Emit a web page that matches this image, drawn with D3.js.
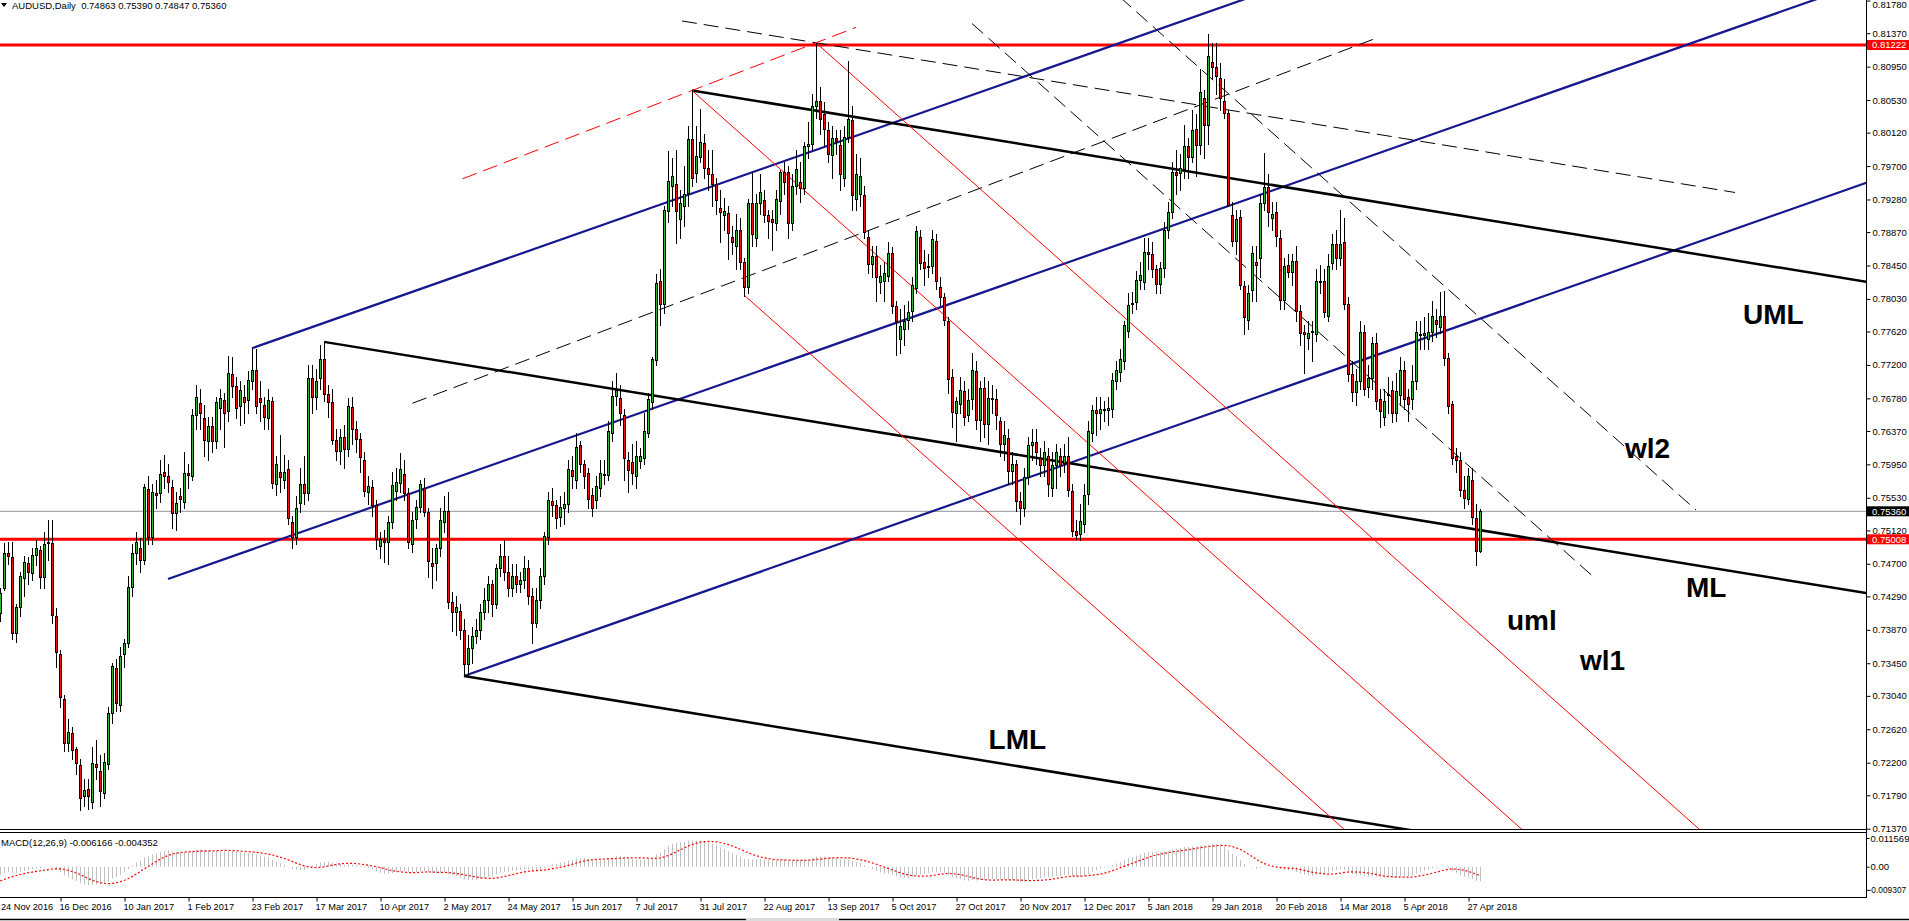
<!DOCTYPE html>
<html><head><meta charset="utf-8">
<script src="https://cdn.jsdelivr.net/npm/d3@7/dist/d3.min.js"></script>
<style>
html,body{margin:0;padding:0;background:#fff;overflow:hidden}
svg{display:block}
text{font-family:"Liberation Sans",Arial,sans-serif}
</style></head><body>
<svg id="chart" width="1909" height="921"></svg>
<script>
// ---------------- DATA (prices in pips, 1 pip = 0.0001) ----------------
const PIP = 1e-4;
const opens = [7395,7408,7439,7483,7479,7383,7416,7452,7471,7458,
7481,7487,7453,7496,7496,7404,7357,7300,7245,7257,
7237,7217,7178,7187,7170,7218,7209,7182,7218,7282,
7339,7293,7357,7370,7441,7483,7490,7475,7564,7504,
7559,7559,7585,7580,7566,7534,7555,7548,7584,7581,
7657,7672,7653,7624,7643,7624,7666,7676,7662,7709,
7694,7668,7680,7676,7700,7714,7678,7670,7653,7675,
7570,7585,7575,7589,7523,7504,7546,7570,7559,7703,
7680,7703,7728,7684,7674,7626,7612,7630,7614,7667,
7639,7627,7601,7560,7566,7544,7493,7500,7497,7522,
7561,7571,7583,7559,7495,7526,7542,7565,7535,7471,
7471,7490,7523,7536,7422,7410,7411,7387,7344,7364,
7379,7387,7410,7425,7445,7420,7465,7480,7460,7440,
7455,7445,7450,7465,7430,7395,7425,7455,7504,7549,
7544,7529,7540,7545,7588,7575,7619,7595,7584,7556,
7550,7565,7582,7582,7634,7681,7678,7657,7600,7598,
7580,7599,7603,7635,7674,7726,7826,7797,7913,7945,
7948,7903,7920,7936,8004,7961,7982,7999,7967,7960,
7947,7917,7908,7911,7881,7869,7889,7849,7818,7924,
7879,7924,7927,7909,7903,7899,7926,7962,7962,7899,
7945,7950,7943,7995,7998,8045,8052,8035,8015,7984,
8005,7997,7955,8007,8028,7928,7935,7934,7881,7847,
7857,7824,7825,7832,7861,7794,7752,7765,7777,7788,
7817,7881,7849,7843,7844,7876,7818,7806,7775,7705,
7660,7671,7687,7657,7677,7713,7651,7691,7646,7678,
7677,7649,7621,7628,7587,7595,7549,7540,7579,7619,
7623,7603,7594,7605,7565,7594,7605,7597,7606,7561,
7511,7508,7520,7558,7635,7663,7660,7664,7663,7664,
7700,7711,7725,7763,7797,7799,7827,7824,7862,7860,
7840,7822,7842,7889,7912,7963,7961,7966,7995,7981,
8016,7997,8056,8022,8101,8094,8081,8052,8037,7909,
7876,7906,7819,7777,7814,7850,7855,7923,7944,7905,
7912,7880,7801,7845,7837,7851,7788,7761,7754,7763,
7759,7824,7826,7782,7848,7872,7855,7875,7797,7709,
7686,7700,7761,7692,7703,7747,7677,7655,7682,7689,
7660,7682,7714,7680,7677,7700,7759,7758,7752,7761,
7777,7768,7781,7729,7671,7605,7601,7563,7551,7575,
7527,7486.3];
const highs = [7420,7440,7496,7497,7497,7420,7460,7480,7478,7490,
7500,7492,7510,7525,7525,7415,7362,7305,7275,7265,
7240,7225,7200,7200,7240,7248,7230,7232,7290,7345,
7350,7365,7375,7455,7495,7510,7502,7570,7580,7570,
7575,7600,7607,7595,7575,7560,7565,7610,7595,7665,
7695,7690,7670,7655,7655,7680,7690,7685,7731,7730,
7705,7700,7695,7712,7741,7740,7700,7680,7690,7680,
7605,7632,7607,7600,7530,7555,7590,7605,7720,7720,
7715,7745,7749,7695,7690,7640,7640,7645,7678,7680,
7650,7635,7610,7580,7575,7550,7510,7512,7530,7585,
7590,7609,7600,7565,7535,7550,7575,7578,7540,7490,
7495,7540,7555,7560,7435,7430,7420,7400,7380,7390,
7400,7420,7440,7455,7450,7470,7495,7500,7480,7470,
7470,7460,7480,7475,7440,7440,7465,7510,7560,7565,
7550,7555,7560,7600,7605,7634,7625,7600,7590,7565,
7580,7600,7600,7650,7700,7710,7695,7665,7610,7620,
7625,7615,7660,7685,7730,7834,7840,7920,7989,7980,
7990,7940,7970,8020,8065,8020,8042,8010,7990,7990,
7955,7940,7930,7920,7895,7910,7905,7855,7928,7962,
7935,7960,7940,7915,7915,7940,7965,7975,7970,7960,
7990,7975,8000,8025,8060,8125,8070,8050,8025,8020,
8015,8015,8020,8102,8045,7985,7980,7945,7890,7870,
7870,7845,7850,7875,7868,7800,7790,7795,7800,7830,
7895,7890,7865,7860,7890,7885,7830,7810,7780,7715,
7680,7705,7700,7690,7735,7725,7700,7705,7700,7695,
7690,7655,7650,7640,7610,7600,7560,7590,7630,7640,
7640,7615,7625,7615,7610,7620,7615,7620,7630,7570,
7525,7545,7570,7650,7670,7680,7680,7675,7680,7710,
7725,7740,7775,7810,7812,7838,7850,7880,7880,7875,
7845,7850,7900,7925,7975,7990,7985,8022,8005,8040,
8035,8092,8065,8136,8125,8125,8100,8080,8040,7925,
7915,7915,7825,7820,7870,7870,7935,7986,7960,7925,
7925,7890,7855,7860,7860,7870,7795,7770,7775,7775,
7840,7845,7840,7860,7885,7890,7915,7905,7805,7725,
7715,7775,7770,7720,7755,7760,7690,7690,7705,7700,
7710,7730,7725,7690,7720,7775,7775,7780,7785,7800,
7790,7812,7813,7735,7675,7615,7610,7580,7590,7590,
7545,7539];
const lows = [7380,7398,7437,7470,7375,7372,7405,7430,7445,7450,
7468,7440,7440,7475,7395,7340,7290,7235,7235,7225,
7206,7160,7165,7162,7163,7200,7165,7175,7212,7270,
7285,7285,7340,7365,7430,7470,7460,7470,7495,7495,
7540,7548,7565,7560,7515,7512,7535,7540,7565,7575,
7640,7640,7605,7600,7610,7615,7640,7617,7650,7680,
7653,7645,7647,7660,7690,7660,7650,7640,7640,7565,
7557,7560,7565,7520,7490,7495,7535,7545,7550,7660,
7665,7690,7675,7655,7620,7600,7595,7590,7605,7620,
7610,7585,7555,7545,7530,7488,7477,7472,7470,7515,
7550,7560,7550,7490,7485,7515,7535,7530,7454,7439,
7450,7480,7510,7415,7385,7381,7375,7329,7330,7345,
7370,7375,7400,7410,7405,7415,7455,7450,7430,7430,
7435,7435,7440,7420,7370,7390,7415,7445,7495,7530,
7515,7518,7520,7535,7565,7565,7585,7565,7540,7530,
7540,7555,7570,7575,7625,7670,7645,7575,7560,7570,
7565,7590,7595,7630,7665,7720,7770,7785,7900,7920,
7873,7880,7895,7920,7945,7950,7975,7955,7940,7920,
7910,7875,7890,7853,7860,7840,7840,7807,7810,7870,
7870,7910,7900,7880,7865,7890,7910,7935,7880,7890,
7935,7925,7935,7980,7990,8030,8010,7995,7975,7955,
7985,7940,7945,8000,7915,7915,7920,7880,7835,7830,
7800,7810,7800,7825,7785,7733,7735,7745,7765,7775,
7810,7840,7820,7830,7835,7815,7795,7770,7685,7642,
7625,7660,7645,7650,7665,7640,7625,7630,7620,7660,
7640,7605,7600,7570,7570,7536,7520,7530,7570,7600,
7595,7580,7580,7555,7555,7565,7580,7585,7555,7505,
7501,7500,7510,7545,7625,7632,7640,7650,7645,7655,
7690,7700,7715,7755,7785,7790,7815,7815,7840,7830,
7810,7810,7830,7880,7905,7935,7940,7955,7955,7975,
7957,7985,7980,7998,8080,8060,8040,8030,7920,7870,
7860,7815,7759,7765,7800,7800,7830,7915,7895,7890,
7870,7790,7790,7830,7820,7775,7745,7710,7740,7725,
7750,7810,7780,7775,7840,7840,7845,7790,7700,7675,
7670,7690,7682,7680,7690,7665,7642,7645,7660,7648,
7650,7670,7665,7650,7665,7690,7740,7740,7740,7750,
7755,7760,7720,7660,7595,7585,7555,7540,7545,7520,
7468,7484.7];
const closes = [7408,7433,7483,7480,7383,7416,7455,7472,7460,7481,
7490,7453,7495,7498,7406,7359,7302,7245,7259,7236,
7220,7176,7186,7178,7220,7214,7184,7221,7282,7341,
7295,7354,7370,7441,7483,7497,7475,7566,7504,7560,
7556,7583,7580,7573,7534,7547,7552,7584,7582,7657,
7680,7659,7626,7643,7624,7674,7678,7660,7710,7694,
7666,7688,7674,7701,7714,7668,7674,7655,7676,7571,
7596,7579,7586,7527,7504,7540,7570,7559,7703,7680,
7700,7728,7684,7674,7626,7612,7630,7614,7668,7640,
7627,7604,7562,7568,7544,7501,7501,7498,7522,7569,
7573,7589,7559,7497,7525,7542,7570,7535,7473,7467,
7490,7525,7536,7422,7410,7416,7387,7344,7364,7379,
7387,7410,7425,7445,7420,7465,7480,7460,7440,7455,
7445,7450,7465,7430,7395,7425,7455,7505,7550,7544,
7527,7542,7545,7589,7580,7617,7596,7580,7552,7540,
7568,7584,7583,7637,7681,7688,7659,7603,7588,7584,
7605,7606,7637,7677,7727,7823,7797,7915,7951,7957,
7913,7923,7935,8004,7955,7983,8000,7967,7960,7947,
7927,7912,7913,7886,7874,7889,7849,7818,7924,7884,
7924,7938,7909,7901,7900,7929,7962,7950,7899,7945,
7966,7943,7995,7998,8045,8052,8029,8017,7985,8005,
8002,7960,8007,8029,7933,7960,7958,7887,7847,7857,
7830,7832,7835,7861,7794,7775,7769,7775,7786,7820,
7888,7848,7842,7844,7878,7825,7806,7776,7702,7661,
7675,7688,7655,7676,7714,7651,7691,7646,7678,7677,
7657,7621,7632,7587,7595,7549,7540,7579,7619,7623,
7610,7594,7610,7570,7594,7610,7594,7606,7563,7511,
7506,7524,7557,7637,7663,7660,7664,7663,7666,7701,
7714,7727,7770,7795,7798,7827,7833,7862,7860,7840,
7822,7842,7889,7912,7963,7959,7968,7995,7981,8015,
7997,8063,8022,8108,8094,8083,8056,8037,7921,7876,
7904,7821,7780,7810,7861,7845,7923,7944,7912,7910,
7882,7801,7844,7837,7851,7788,7760,7759,7760,7761,
7826,7826,7786,7844,7872,7855,7872,7797,7709,7686,
7700,7761,7690,7703,7747,7675,7662,7675,7684,7660,
7687,7714,7677,7671,7700,7761,7758,7760,7761,7781,
7772,7781,7729,7669,7603,7601,7563,7553,7581,7529,
7486.3,7536];

const dateLabels = ["24 Nov 2016","16 Dec 2016","10 Jan 2017","1 Feb 2017","23 Feb 2017","17 Mar 2017","10 Apr 2017","2 May 2017","24 May 2017","15 Jun 2017","7 Jul 2017","31 Jul 2017","22 Aug 2017","13 Sep 2017","5 Oct 2017","27 Oct 2017","20 Nov 2017","12 Dec 2017","5 Jan 2018","29 Jan 2018","20 Feb 2018","14 Mar 2018","5 Apr 2018","27 Apr 2018"];
const labelBars = [0,16,32,48,64,80,96,112,128,144,160,176,192,208,224,240,256,272,288,304,320,336,352,368];
const priceTicks = [0.81780,0.81370,0.80950,0.80530,0.80120,0.79700,0.79280,0.78870,0.78450,0.78030,0.77620,0.77200,0.76780,0.76370,0.75950,0.75530,0.75120,0.74700,0.74290,0.73870,0.73450,0.73040,0.72620,0.72200,0.71790,0.71370];
const macdTicks = [0.011569, 0, -0.009307];
const macdTickText = ["0.011569","0.00","-0.009307"];
const hLevels = [{price:0.81222, kind:"red"},{price:0.75008, kind:"red"},{price:0.75360, kind:"grey"}];
// Pitchfork anchors: [bar, price] for P1 (handle), P2, P3
const blueFork = [[43,0.7451],[64,0.7741],[117,0.7329]];
const blackFork = [[82,0.7749],[174,0.8065],[117,0.7329]];
const redFork = [[174,0.8065],[187,0.7808],[205,0.8125]];
const warnLines = [{mult:2, from:244, to:400},{mult:3, from:244, to:425}];
// dashed segments [bar1, price1, bar2, price2]
const dashedBlack = [[104.1,0.76718,344.75,0.81302],[171.5,0.81524,434.75,0.79368]];
const dashedRed = [[116.65,0.79540,215,0.81443]];
const notes = [{t:"UML",bar:436.75,price:0.77840},{t:"ML",bar:422.5,price:0.74411},{t:"LML",bar:248.15,price:0.72498},
  {t:"wl2",bar:407.25,price:0.76156},{t:"wl1",bar:396,price:0.73493},{t:"uml",bar:377.75,price:0.73996}];
const titleText = "AUDUSD,Daily  0.74863 0.75390 0.74847 0.75360";
const macdTitle = "MACD(12,26,9) -0.006166 -0.004352";
// estimated pre-chart MACD state (history before the first visible bar)
const macdSeed = {ema12:0.7440, ema26:0.7475};
const macdPrior = [-0.0080,-0.0079,-0.0076,-0.0071,-0.0065,-0.0058,-0.0051,-0.0044];

// ---------------- LAYOUT ----------------
const W=1909, H=921, axisX=1866, mainBottom=829.5, macdTop=832.5, macdBottom=897.5;
const svg = d3.select("#chart");
const x = d3.scaleLinear().domain([0,467.5]).range([-4,1866]);
const y = d3.scaleLinear().domain([0.7137,0.8178]).range([828.7,0.6]);
const ym = d3.scaleLinear().domain([-0.009307,0.011569]).range([889.8,838]);

const defs = svg.append("defs");
defs.append("clipPath").attr("id","cMain").append("rect").attr("x",0).attr("y",0).attr("width",axisX).attr("height",mainBottom);
defs.append("clipPath").attr("id","cMacd").append("rect").attr("x",0).attr("y",macdTop+0.5).attr("width",axisX).attr("height",macdBottom-macdTop-1);

const gMain = svg.append("g").attr("clip-path","url(#cMain)");
const gLines = gMain.append("g");
const gCandles = gMain.append("g");
const gOver = gMain.append("g");

const bars = closes.map((c,i)=>({i, o:opens[i]*PIP, h:Math.max(highs[i],opens[i],c)*PIP, l:Math.min(lows[i],opens[i],c)*PIP, c:c*PIP}));

hLevels.forEach(d=>{
  gLines.append("line").attr("x1",0).attr("x2",axisX).attr("y1",y(d.price)).attr("y2",y(d.price))
    .attr("stroke", d.kind==="red" ? "#ff0000" : "#8a949e").attr("stroke-width", d.kind==="red" ? 3 : 1);
});

function pt(a){ return [x(a[0]), y(a[1])]; }
function extend(p, dir, xEnd){ const s = dir[1]/dir[0]; return [p, [xEnd, p[1] + s*(xEnd-p[0])]]; }
function drawSeg(g, seg, color, width, dash){
  g.append("line").attr("x1",seg[0][0]).attr("y1",seg[0][1]).attr("x2",seg[1][0]).attr("y2",seg[1][1])
   .attr("stroke",color).attr("stroke-width",width).attr("stroke-dasharray",dash||null).attr("fill","none");
}
function fork(anchors){
  const p1 = pt(anchors[0]), p2 = pt(anchors[1]), p3 = pt(anchors[2]);
  const mid = [(p2[0]+p3[0])/2, (p2[1]+p3[1])/2];
  const dir = [mid[0]-p1[0], mid[1]-p1[1]];
  return {p1,p2,p3,mid,dir};
}
const XEND = 2600;
const bf = fork(blueFork);
[bf.p1,bf.p2,bf.p3].forEach(p=>drawSeg(gLines, extend(p,bf.dir,XEND), "#16168f", 2.2));
const kf = fork(blackFork);
[kf.p1,kf.p2,kf.p3].forEach(p=>drawSeg(gLines, extend(p,kf.dir,XEND), "#000", 2.5));
const rf = fork(redFork);
[rf.p1,rf.p2,rf.p3].forEach(p=>drawSeg(gLines, extend(p,rf.dir,XEND), "#ff0000", 1));
const v = [rf.p3[0]-rf.mid[0], rf.p3[1]-rf.mid[1]];
const sR = rf.dir[1]/rf.dir[0];
warnLines.forEach(w=>{
  const base = [rf.mid[0]+w.mult*v[0], rf.mid[1]+w.mult*v[1]];
  const xa = x(w.from), xb = x(w.to);
  drawSeg(gLines, [[xa, base[1]+sR*(xa-base[0])],[xb, base[1]+sR*(xb-base[0])]], "#000", 1, "15,7");
});
dashedBlack.forEach(d=>drawSeg(gLines, [[x(d[0]),y(d[1])],[x(d[2]),y(d[3])]], "#000", 1, "15,7"));
dashedRed.forEach(d=>drawSeg(gLines, [[x(d[0]),y(d[1])],[x(d[2]),y(d[3])]], "#ff0000", 1, "15,7"));

bars.forEach(b=>{
  const cx = Math.round(x(b.i));
  const yh = Math.round(y(b.h)), yl = Math.round(y(b.l));
  gCandles.append("rect").attr("x",cx).attr("y",yh).attr("width",1).attr("height",Math.max(1,yl-yh+1)).attr("fill","#000");
  const top = Math.round(y(Math.max(b.o,b.c))), bot = Math.round(y(Math.min(b.o,b.c)));
  gCandles.append("rect").attr("x",cx-1).attr("y",top).attr("width",3).attr("height",Math.max(1,bot-top+1)).attr("fill","#000");
  if (bot-top-1 > 0) gCandles.append("rect").attr("x",cx).attr("y",top+1).attr("width",1).attr("height",bot-top-1)
     .attr("fill", b.c>=b.o ? "#2fb52f" : "#f01010");
});

notes.forEach(n=>{
  gOver.append("text").attr("x",x(n.bar)).attr("y",y(n.price)).attr("dy","0.36em")
    .attr("font-size",28).attr("font-weight","bold").attr("fill","#000").text(n.t);
});

// ---------------- MACD ----------------
const a12 = 2/13, a26 = 2/27;
let e12 = macdSeed.ema12, e26 = macdSeed.ema26;
const macdMain = [], macdSig = [];
closes.forEach(c=>{
  const p = c*PIP;
  e12 += a12*(p-e12); e26 += a26*(p-e26);
  macdMain.push(e12-e26);
  macdSig.push(d3.mean(macdPrior.concat(macdMain).slice(-9)));
});
const gM = svg.append("g").attr("clip-path","url(#cMacd)");
macdMain.forEach((m,i)=>{
  const cx = Math.round(x(i))+0.5;
  gM.append("line").attr("x1",cx).attr("x2",cx).attr("y1",ym(0)).attr("y2",ym(m)).attr("stroke","#c0c0c0").attr("stroke-width",1);
});
gM.append("path").datum(macdSig).attr("fill","none").attr("stroke","#ff0000").attr("stroke-width",1.2).attr("stroke-dasharray","2,2")
  .attr("d", d3.line().x((d,i)=>x(i)+0.5).y(d=>ym(d)));

// ---------------- FRAMES & AXES ----------------
const frame = svg.append("g").attr("stroke","#000").attr("stroke-width",1).attr("shape-rendering","crispEdges");
frame.append("line").attr("x1",0).attr("x2",axisX).attr("y1",mainBottom).attr("y2",mainBottom);
frame.append("line").attr("x1",0).attr("x2",axisX).attr("y1",macdTop).attr("y2",macdTop);
frame.append("line").attr("x1",0).attr("x2",axisX).attr("y1",macdBottom).attr("y2",macdBottom);
frame.append("line").attr("x1",axisX+0.5).attr("x2",axisX+0.5).attr("y1",0).attr("y2",macdBottom);

const axP = svg.append("g").attr("transform",`translate(${axisX+0.5},0)`)
  .call(d3.axisRight(y).tickValues(priceTicks).tickFormat(d3.format(".5f")).tickSize(4).tickSizeOuter(0).tickPadding(2));
axP.select(".domain").remove();
axP.selectAll("text").attr("font-size",9.5).attr("font-family","Liberation Sans, Arial").attr("fill","#000");
axP.selectAll("line").attr("stroke","#000");
axP.selectAll(".tick").filter(d=>d===priceTicks[0]).select("text").attr("dy","0.75em");

const axM = svg.append("g").attr("transform",`translate(${axisX+0.5},0)`)
  .call(d3.axisRight(ym).tickValues(macdTicks).tickFormat((d,i)=>macdTickText[i]).tickSize(3).tickSizeOuter(0).tickPadding(1));
axM.select(".domain").remove();
axM.selectAll("text").attr("font-size",9.5).attr("font-family","Liberation Sans, Arial").attr("fill","#000");
axM.selectAll(".tick").filter(d=>d<0).select("text").attr("font-size",8.4).attr("x",2);

hLevels.forEach(d=>{
  const yy = y(d.price);
  svg.append("rect").attr("x",axisX+1).attr("y",yy-5).attr("width",W-axisX-1).attr("height",10)
    .attr("fill", d.kind==="red" ? "#ff0000" : "#000");
  svg.append("text").attr("x",axisX+6).attr("y",yy).attr("dy","0.35em").attr("font-size",9.5).attr("fill","#fff")
    .text(d3.format(".5f")(d.price));
});

const axX = svg.append("g").attr("transform",`translate(0,${macdBottom})`)
  .call(d3.axisBottom(x).tickValues(labelBars).tickFormat((d,i)=>dateLabels[i]).tickSize(4).tickSizeOuter(0).tickPadding(2));
axX.select(".domain").remove();
axX.selectAll("line").attr("stroke","#000").attr("transform","translate(0.5,0)");
axX.selectAll("text").attr("font-size",9.2).attr("font-family","Liberation Sans, Arial").attr("fill","#000")
  .attr("text-anchor","start").attr("x",-1).attr("y",6).attr("dy","0.71em");
// first label would start left of the picture; keep it inside
axX.selectAll(".tick").filter(d=>x(d)<1).select("text").attr("x",4.5);

svg.append("line").attr("x1",0).attr("x2",W).attr("y1",919.5).attr("y2",919.5).attr("stroke","#000").attr("stroke-width",1.5);
svg.append("rect").attr("x",746).attr("y",918).attr("width",93).attr("height",3).attr("fill","#dcdcdc");

svg.append("path").attr("d","M1,3 L7,3 L4,7 Z").attr("fill","#000");
svg.append("text").attr("x",12).attr("y",8.5).attr("font-size",9.5).attr("fill","#000").style("white-space","pre").text(titleText);
svg.append("text").attr("x",1).attr("y",845.5).attr("font-size",9.5).attr("fill","#000").text(macdTitle);
</script>
</body></html>
